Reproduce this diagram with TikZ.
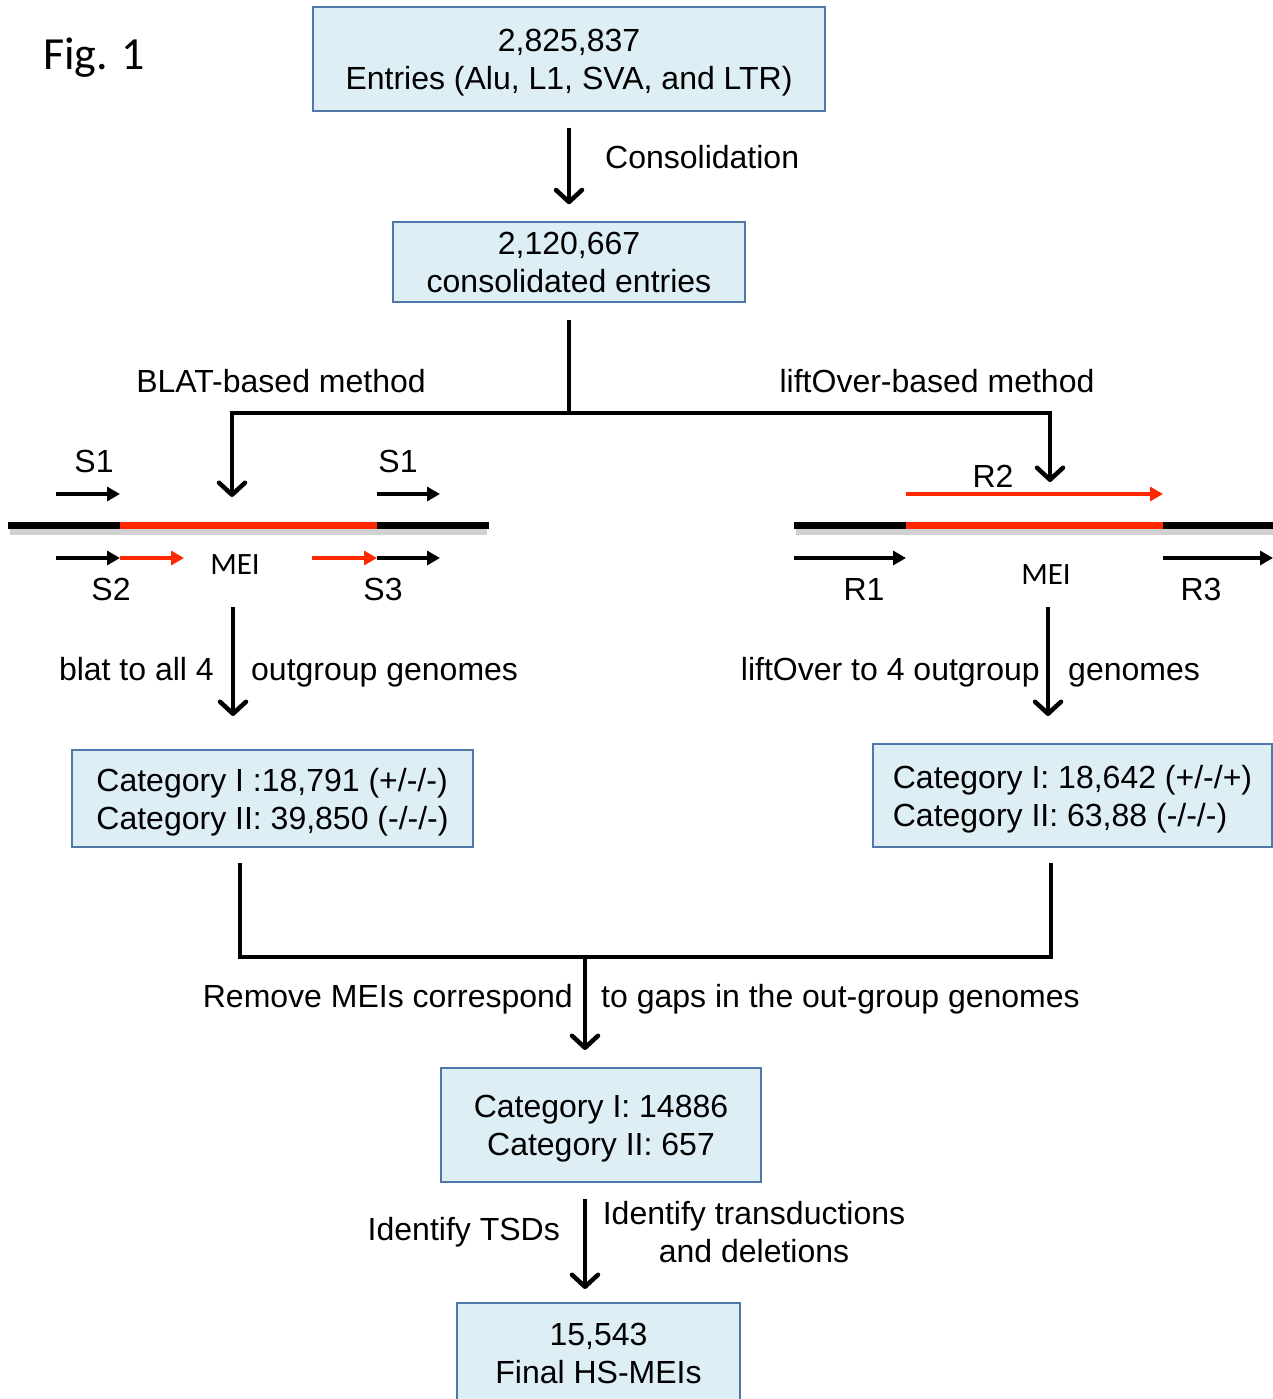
\documentclass[tikz,border=0pt]{standalone}
\usepackage{fontspec}
\setmainfont{Liberation Sans}
\newfontfamily\calib{Carlito}
\usetikzlibrary{arrows.meta}
\definecolor{boxfill}{RGB}{222,238,245}
\definecolor{boxline}{RGB}{79,119,170}
\definecolor{mred}{RGB}{255,40,0}
\begin{document}
\begin{tikzpicture}[x=1pt,y=-1pt,
  box/.style={draw=boxline, fill=boxfill, line width=1.5pt, inner sep=0pt, align=center, font=\fontsize{32}{38}\selectfont},
  lbl/.style={inner sep=0pt, font=\fontsize{32}{38}\selectfont},
  mei/.style={inner sep=0pt, font=\calib\fontsize{31}{37}\selectfont},
  thickline/.style={line width=4.5pt, line join=miter},
  arr/.style={line width=4.5pt, line join=miter, -{Straight Barb[length=12pt,width=26pt,round]}},
  sarr/.style={line width=4pt, -{Triangle[length=13pt,width=14pt]}},
  genome/.style={line width=7pt},
  shadow/.style={line width=7pt, black, opacity=0.18}
]
\useasboundingbox (0,0) rectangle (1273,1399);
\fill[white] (0,0) rectangle (1273,1399);

% Title
\node[inner sep=0pt, anchor=base west, font=\calib\fontsize{46}{52}\selectfont] (fig) at (43,70) {Fig. 1};

% Boxes
\node[box, minimum width=512pt, minimum height=104pt] (b1) at (569,59) {2,825,837\\\smash{Entries (Alu, L1, SVA, and LTR)}};
\node[box, minimum width=352pt, minimum height=80pt] (b2) at (569,262) {2,120,667\\consolidated entries};
\node[box, minimum width=401pt, minimum height=97pt, align=left] (b3) at (272.5,798.5) {Category I :18,791 (+/-/-)\\\smash{Category II: 39,850 (-/-/-)}};
\node[box, minimum width=399pt, minimum height=103pt, align=left] (b4) at (1072.5,795.5) {Category I: 18,642 (+/-/+)\\\smash{Category II: 63,88 (-/-/-)}};
\node[box, minimum width=320pt, minimum height=114pt] (b5) at (601,1125) {Category I: 14886\\\smash{Category II: 657}};
\node[box, minimum width=283pt, minimum height=100pt] (b6) at (598.5,1353) {15,543\\Final HS-MEIs};

% Consolidation
\draw[arr, shorten <=16pt, shorten >=17pt] (b1.south) -- (b2.north);
\node[lbl, anchor=base west] (lcons) at (605,168) {Consolidation};

% Split
\coordinate (j0) at (569,413);
\coordinate (al) at (232,497);
\coordinate (ar) at (1050,482);
\draw[thickline, shorten <=17pt] (b2.south) -- (j0);
\draw[arr] (j0) -| (al);
\draw[arr] (j0) -| (ar);
\node[lbl, anchor=base] (lblat) at (281,392) {BLAT-based method};
\node[lbl, anchor=base] (llift) at (937,392) {liftOver-based method};

% Left genome
\draw[shadow] (10,531) -- (487,531);
\draw[genome, black] (8,525) -- (120,525);
\draw[genome, mred] (120,525) -- (377,525);
\draw[genome, black] (377,525) -- (489,525);
\coordinate (s1a) at (56,494); \coordinate (s1b) at (120,494);
\coordinate (s1c) at (377,494); \coordinate (s1d) at (440,494);
\draw[sarr] (s1a) -- (s1b);
\draw[sarr] (s1c) -- (s1d);
\coordinate (s2a) at (56,558); \coordinate (s2b) at (120,558); \coordinate (s2c) at (184,558);
\coordinate (s3a) at (312,558); \coordinate (s3b) at (377,558); \coordinate (s3c) at (440,558);
\draw[sarr, mred] (s2b) -- (s2c);
\draw[sarr] (s2a) -- (s2b);
\draw[sarr, mred] (s3a) -- (s3b);
\draw[sarr] (s3b) -- (s3c);
\node[lbl, anchor=base] (ls1a) at (94,472) {S1};
\node[lbl, anchor=base] (ls1b) at (398,472) {S1};
\node[lbl, anchor=base] (ls2) at (111,600) {S2};
\node[lbl, anchor=base] (ls3) at (383,600) {S3};
\node[mei, anchor=base] (mei1) at (235,574) {MEI};

% Right genome
\draw[shadow] (796,531) -- (1273,531);
\draw[genome, black] (794,525) -- (906,525);
\draw[genome, mred] (906,525) -- (1163,525);
\draw[genome, black] (1163,525) -- (1280,525);
\coordinate (r2a) at (906,494); \coordinate (r2b) at (1163,494);
\draw[sarr, mred] (r2a) -- (r2b);
\coordinate (r1a) at (794,558); \coordinate (r1b) at (906,558);
\coordinate (r3a) at (1163,558); \coordinate (r3b) at (1273,558);
\draw[sarr] (r1a) -- (r1b);
\draw[sarr] (r3a) -- (r3b);
\node[lbl, anchor=base] (lr2) at (993,487) {R2};
\node[lbl, anchor=base] (lr1) at (864,600) {R1};
\node[lbl, anchor=base] (lr3) at (1201,600) {R3};
\node[mei, anchor=base] (mei2) at (1046,584) {MEI};

% Down arrows to categories
\coordinate (dl0) at (233,607); \coordinate (dl1) at (233,716);
\coordinate (dr0) at (1048,607); \coordinate (dr1) at (1048,716);
\draw[arr] (dl0) -- (dl1);
\draw[arr] (dr0) -- (dr1);
\node[lbl, anchor=base east] (lbl1) at (214,680) {blat to all 4};
\node[lbl, anchor=base west] (lbl2) at (251,680) {outgroup genomes};
\node[lbl, anchor=base east] (llo1) at (1040,680) {liftOver to 4 outgroup};
\node[lbl, anchor=base west] (llo2) at (1068,680) {genomes};

% Merge
\coordinate (ml) at (240,863);
\coordinate (mr) at (1051,863);
\coordinate (mm) at (585,957);
\coordinate (me) at (585,1050);
\draw[thickline] (ml) |- (mm) -| (mr);
\draw[arr] (mm) -- (me);
\node[lbl, anchor=base east] (lrm1) at (573,1007) {Remove MEIs correspond};
\node[lbl, anchor=base west] (lrm2) at (601,1007) {to gaps in the out-group genomes};

% Final
\coordinate (f0) at (585,1199);
\coordinate (f1) at (585,1289);
\draw[arr] (f0) -- (f1);
\node[lbl, anchor=base east] (ltsd) at (560,1240) {Identify TSDs};
\node[lbl, align=center, anchor=north] (ltrans) at (754,1201) {Identify transductions\\and deletions};
\end{tikzpicture}
\end{document}
